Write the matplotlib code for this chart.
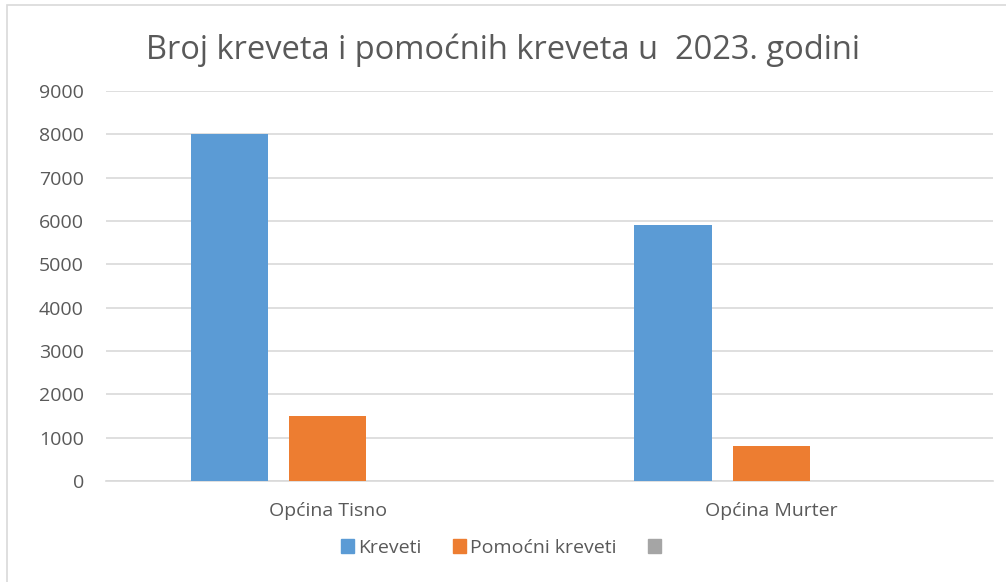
import numpy as np
import matplotlib.pyplot as plt
from matplotlib.patches import Patch, Rectangle

# data
categories = ['Općina Tisno', 'Općina Murter']
kreveti = [8000, 5900]
pomocni = [1500, 810]
treca = [np.nan, np.nan]   # third series has no values, only a legend entry
series_names = ['Kreveti', 'Pomoćni kreveti', '']
yticks = list(range(0, 9001, 1000))

colors = ['#5B9BD5', '#ED7D31', '#A5A5A5']
text_col = '#595959'
grid_col = '#D9D9D9'

plt.rcParams['font.family'] = ['Open Sans', 'DejaVu Sans']

fig = plt.figure(figsize=(10.06, 5.82), dpi=100)
W, H = 1006, 582
ax = fig.add_axes([106 / W, 1 - 481 / H, (993 - 106) / W, (481 - 91) / H])

# chart border (Excel frame)
fig.patches.append(Rectangle((7 / W, -0.1), 1.2, 1 - 5 / H + 0.1, transform=fig.transFigure,
                             fill=False, edgecolor='#D9D9D9', linewidth=1.2))

x = np.arange(len(categories))
width = 0.1745
step = 0.2216
all_series = [kreveti, pomocni, treca]
for i, vals in enumerate(all_series):
    ax.bar(x + (i - 1) * step, vals, width, color=colors[i], zorder=3)

ax.set_xlim(-0.5, len(categories) - 0.5)
ax.set_ylim(0, 9000)
ax.set_yticks(yticks)
ax.set_xticks(x)
ax.set_xticklabels(categories)
ax.yaxis.grid(True, color=grid_col, linewidth=1.2, zorder=0)
ax.tick_params(axis='both', length=0, labelsize=14, colors=text_col)
ax.tick_params(axis='y', pad=16)
ax.tick_params(axis='x', pad=15)
for s in ['top', 'right', 'left']:
    ax.spines[s].set_visible(False)
ax.spines['bottom'].set_color(grid_col)
ax.spines['bottom'].set_linewidth(1.2)

fig.text(0.5, 1 - 50 / H, 'Broj kreveta i pomoćnih kreveta u  2023. godini',
         ha='center', va='center', fontsize=23.5, color=text_col)

handles = [Patch(color=c) for c in colors]
fig.legend(handles, series_names, loc='center', bbox_to_anchor=(0.5, 1 - 548 / H), ncol=3,
           frameon=False, fontsize=14, labelcolor=text_col, handlelength=0.7, handleheight=0.7,
           handletextpad=0.2, columnspacing=1.6)

fig.savefig('out.png', dpi=100)
